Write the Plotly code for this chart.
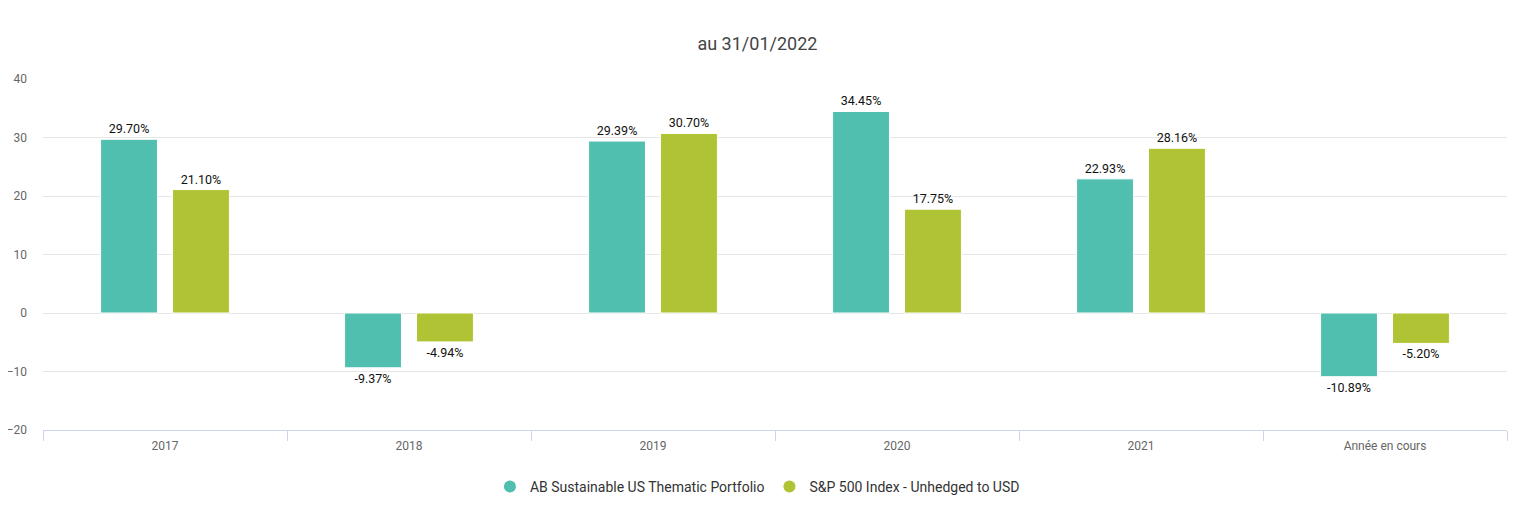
import plotly.graph_objects as go

categories = ["2017", "2018", "2019", "2020", "2021", "Année en cours"]
portfolio = [29.70, -9.37, 29.39, 34.45, 22.93, -10.89]
index_vals = [21.10, -4.94, 30.70, 17.75, 28.16, -5.20]
series_names = ["AB Sustainable US Thematic Portfolio", "S&P 500 Index - Unhedged to USD"]
colors = ["#50bfb0", "#b0c334"]
y_ticks = [-20, -10, 0, 10, 20, 30, 40]

FONT = "Roboto"
W, H = 1513, 508  # page body has an 8px margin
fig = go.Figure()
for name, vals, col in zip(series_names, [portfolio, index_vals], colors):
    fig.add_trace(go.Bar(
        x=categories, y=vals, name=name, showlegend=False,
        marker=dict(color=col, line=dict(color="white", width=1)),
        texttemplate="%{y:.2f}%", textposition="outside",
        textfont=dict(family=FONT, size=12.5, color="#111"),
        cliponaxis=False,
    ))
    fig.add_trace(go.Scatter(
        x=[None], y=[None], mode="markers", name=name,
        marker=dict(symbol="circle", size=15, color=col),
    ))

fig.update_layout(
    width=W, height=H,
    paper_bgcolor="white", plot_bgcolor="white",
    margin=dict(l=35, r=14, t=71, b=86, autoexpand=False),
    barmode="group", bargap=0.41, bargroupgap=0.21,
    title=dict(text="au 31/01/2022", xref="paper", x=0.488, xanchor="center",
               y=1 - 36 / H, yanchor="middle",
               font=dict(family=FONT, size=18, color="#444")),
    font=dict(family=FONT, color="#666"),
    legend=dict(orientation="h", x=0.488, xanchor="center", y=-0.162, yanchor="middle",
                font=dict(family=FONT, size=14, color="#333"), itemsizing="constant"),
    xaxis=dict(type="category", showline=True, linecolor="#ccd6eb", linewidth=1,
               ticks="outside", tickson="boundaries", ticklen=10, tickcolor="#ccd6eb",
               tickfont=dict(family=FONT, size=12, color="#666"), showgrid=False,
               ticklabelstandoff=5, automargin=False),
    yaxis=dict(range=[-20, 40], tickvals=y_ticks, showgrid=True, gridcolor="#e6e6e6",
               zeroline=False, tickfont=dict(family=FONT, size=12, color="#666"),
               ticklabelstandoff=15, automargin=False),
)
fig.write_html("out.html")
